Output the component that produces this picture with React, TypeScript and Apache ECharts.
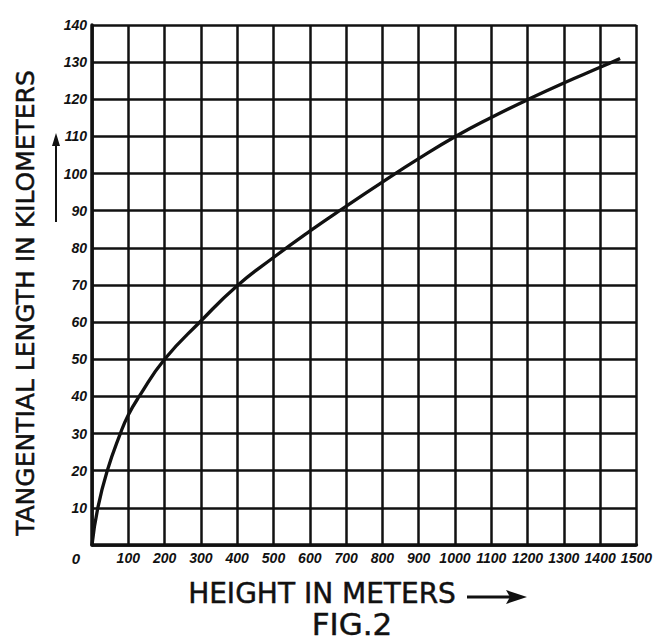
import React, { useEffect, useRef } from "react";
import * as echarts from "echarts";

// Curve: height (m) -> tangential length (km)
const heights = [0, 16, 42, 78, 100, 130, 200, 300, 400, 500, 600, 700, 800, 900, 1000, 1100, 1200, 1300, 1400, 1455];
const lengths = [0, 10, 20, 30, 35, 40, 50, 60.3, 69.8, 77.4, 84.5, 91.2, 97.7, 104, 109.9, 115.1, 119.9, 124.4, 128.6, 131];

const xTickLabels = ["0", "100", "200", "300", "400", "500", "600", "700", "800", "900", "1000", "1100", "1200", "1300", "1400", "1500"];
const yTickLabels = ["0", "10", "20", "30", "40", "50", "60", "70", "80", "90", "100", "110", "120", "130", "140"];

const yTitle = "TANGENTIAL LENGTH IN KILOMETERS";
const xTitle = "HEIGHT IN METERS";
const figTitle = "FIG.2";

const INK = "#111";
const LABEL_FONT = "'Liberation Sans', Arial, sans-serif";
const TITLE_FONT = "'DejaVu Sans', Verdana, sans-serif";

export default function App() {
  const ref = useRef<HTMLDivElement>(null);

  useEffect(() => {
    if (!ref.current) return;
    const chart = echarts.init(ref.current, undefined, { renderer: "svg" });
    const data = heights.map((h, i) => [h, lengths[i]]);

    chart.setOption({
      animation: false,
      backgroundColor: "#fff",
      grid: { left: 92, right: 8, top: 25, bottom: 99, containLabel: false },
      xAxis: {
        type: "value",
        min: 0,
        max: 1500,
        interval: 100,
        axisLine: { show: true, onZero: false, lineStyle: { color: INK, width: 3.5 } },
        axisTick: { show: false },
        splitLine: { show: true, lineStyle: { color: INK, width: 2.5 } },
        axisLabel: {
          margin: 6,
          color: INK,
          fontFamily: LABEL_FONT,
          fontStyle: "italic",
          fontWeight: "bold",
          fontSize: 14,
          formatter: (v: number) => {
            const idx = Math.round(v / 100);
            if (idx === 0) return "{z|" + xTickLabels[0] + "}";
            return xTickLabels[idx] ?? "";
          },
          rich: {
            z: {
              fontFamily: LABEL_FONT,
              fontStyle: "italic",
              fontWeight: "bold",
              fontSize: 15,
              color: INK,
              padding: [0, 32, 0, 0],
            },
          },
        },
      },
      yAxis: {
        type: "value",
        min: 0,
        max: 140,
        interval: 10,
        axisLine: { show: true, onZero: false, lineStyle: { color: INK, width: 3.5 } },
        axisTick: { show: false },
        splitLine: { show: true, lineStyle: { color: INK, width: 2.5 } },
        axisLabel: {
          margin: 5,
          color: INK,
          fontFamily: LABEL_FONT,
          fontStyle: "italic",
          fontWeight: "bold",
          fontSize: 14,
          formatter: (v: number) => {
            const idx = Math.round(v / 10);
            if (idx === 0) return "";
            return yTickLabels[idx] ?? "";
          },
        },
      },
      series: [
        {
          type: "line",
          data,
          smooth: 0.5,
          showSymbol: false,
          symbol: "none",
          lineStyle: { color: INK, width: 3.3 },
          z: 5,
        },
      ],
      graphic: [
        {
          type: "text",
          x: 25,
          y: 303,
          rotation: Math.PI / 2,
          style: {
            text: yTitle,
            fontFamily: TITLE_FONT,
            fontSize: 25,
            fill: INK,
            stroke: INK,
            lineWidth: 0.5,
            align: "center",
            verticalAlign: "middle",
          },
        },
        {
          type: "line",
          shape: { x1: 56, y1: 222, x2: 56, y2: 142 },
          style: { stroke: INK, lineWidth: 2 },
        },
        {
          type: "polygon",
          shape: { points: [[56, 133], [52, 146], [60, 146]] },
          style: { fill: INK },
        },
        {
          type: "text",
          x: 322,
          y: 593,
          style: {
            text: xTitle,
            fontFamily: TITLE_FONT,
            fontSize: 28,
            fill: INK,
            stroke: INK,
            lineWidth: 0.5,
            align: "center",
            verticalAlign: "middle",
          },
        },
        {
          type: "line",
          shape: { x1: 467, y1: 597, x2: 512, y2: 597 },
          style: { stroke: INK, lineWidth: 3 },
        },
        {
          type: "polygon",
          shape: { points: [[527, 597], [506, 590], [510, 597], [506, 604]] },
          style: { fill: INK },
        },
        {
          type: "text",
          x: 352,
          y: 624,
          style: {
            text: figTitle,
            fontFamily: TITLE_FONT,
            fontSize: 31,
            lineHeight: 32,
            fill: INK,
            stroke: INK,
            lineWidth: 0.5,
            align: "center",
            verticalAlign: "middle",
          },
        },
      ],
    });

    return () => chart.dispose();
  }, []);

  return (
    <div
      ref={ref}
      style={{ position: "fixed", left: 0, top: 0, width: 655, height: 644, background: "#fff" }}
    />
  );
}
